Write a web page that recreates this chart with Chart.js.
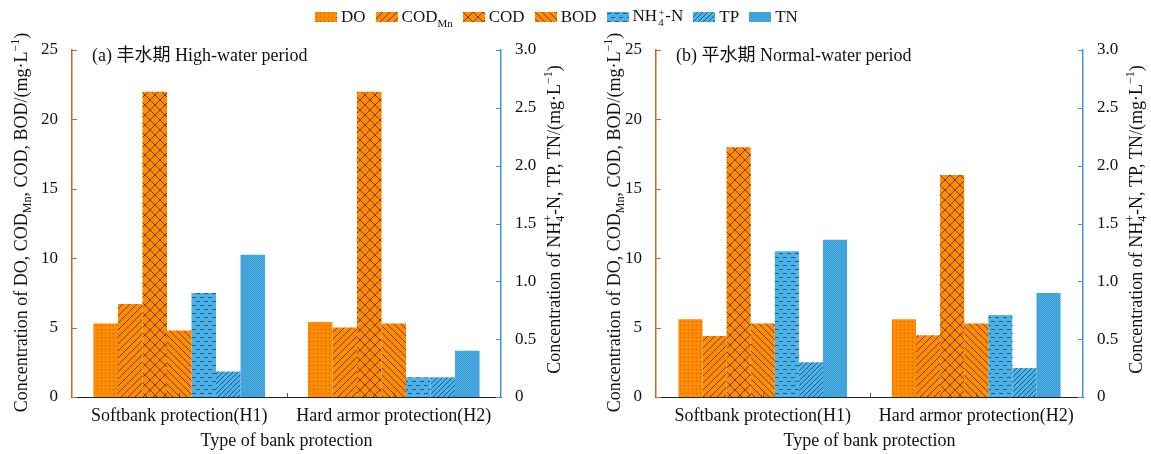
<!DOCTYPE html>
<html>
<head>
<meta charset="utf-8">
<script src="https://cdn.jsdelivr.net/npm/chart.js@4.4.0/dist/chart.umd.min.js"></script>
<style>
  body { margin: 0; background: #fff; width: 1151px; height: 454px; position: relative; overflow: hidden;
         font-family: 'Liberation Serif', 'Noto Sans CJK SC', serif; color: #111; }
  #legend { position: absolute; left: 315px; top: 6px; display: flex; align-items: center; font-size: 17px; white-space: nowrap; z-index: 2; }
  .item { display: flex; align-items: center; margin-right: 10px; }
  .item canvas { margin-right: 4px; }
  sub { font-size: 11px; vertical-align: -5px; line-height: 0; }
  .ss { display: inline-flex; flex-direction: column; font-size: 11px; line-height: 10px; vertical-align: middle; margin: 0 1px; }
  #ca { position: absolute; left: 0; top: 0; }
  #cb { position: absolute; left: 575px; top: 0; }
</style>
</head>
<body>
<div id="legend"></div>
<canvas id="ca" width="575" height="454"></canvas>
<canvas id="cb" width="576" height="454"></canvas>
<script>
const categories = ["Softbank protection(H1)", "Hard armor protection(H2)"];
const seriesNames = ["DO", "CODMn", "COD", "BOD", "NH4+-N", "TP", "TN"];
const legendLabels = ["DO", "COD<sub>Mn</sub>", "COD", "BOD",
  'NH<span class="ss"><span>+</span><span>4</span></span>-N', "TP", "TN"];

// (a) high-water period
const highDO = [5.3, 5.4];
const highCODMn = [6.7, 5.0];
const highCOD = [22, 22];
const highBOD = [4.8, 5.3];
const highNH4 = [0.90, 0.17];
const highTP = [0.22, 0.17];
const highTN = [1.23, 0.40];

// (b) normal-water period
const normDO = [5.6, 5.6];
const normCODMn = [4.4, 4.45];
const normCOD = [18, 16];
const normBOD = [5.3, 5.3];
const normNH4 = [1.26, 0.71];
const normTP = [0.30, 0.25];
const normTN = [1.36, 0.90];

const leftTicksMax = 25;
const rightTicksMax = 3.0;

const FAMILY = "'Liberation Serif', 'Noto Sans CJK SC', serif";
const ORANGE = "#ff8c00";
const BLUE = "#4cb1e6";
const ORANGE_AXIS = "#c8662a";
const BLUE_AXIS = "#4a92c4";
const kinds = ["dots", "slash", "cross", "back", "dash", "tp", "checker"];

function makePattern(ctx, kind, bg) {
    const size = {dots: 4, slash: 7, cross: 10, back: 7, dash: 8, tp: 5, checker: 2}[kind];
    const c = document.createElement("canvas");
    c.width = size; c.height = size;
    const g = c.getContext("2d");
    g.fillStyle = bg;
    g.fillRect(0, 0, size, size);
    const dark = bg === ORANGE ? "#7a3c06" : "#1d5a8c";
    g.strokeStyle = dark;
    g.fillStyle = dark;
    g.lineWidth = 1;
    const diag = (up) => {
        g.beginPath();
        for (let k = -1; k <= 1; k++) {
            if (up) { g.moveTo(k * size, size); g.lineTo(k * size + size, 0); }
            else { g.moveTo(k * size, 0); g.lineTo(k * size + size, size); }
        }
        g.stroke();
    };
    if (kind === "dots") {
        g.fillStyle = "#b35a06";
        g.fillRect(1, 1, 1, 1);
    } else if (kind === "slash") {
        diag(true);
    } else if (kind === "back") {
        diag(false);
    } else if (kind === "cross") {
        diag(true); diag(false);
    } else if (kind === "dash") {
        g.fillRect(0, 1, 4, 1);
        g.fillRect(4, 5, 4, 1);
    } else if (kind === "tp") {
        diag(true);
    } else if (kind === "checker") {
        g.fillStyle = "#3a98cf";
        g.fillRect(0, 0, 1, 1);
        g.fillRect(1, 1, 1, 1);
    }
    return ctx.createPattern(c, "repeat");
}

// legend
const legendDiv = document.getElementById("legend");
seriesNames.forEach((name, i) => {
    const item = document.createElement("div");
    item.className = "item";
    const sw = document.createElement("canvas");
    sw.width = 22; sw.height = 10;
    const sctx = sw.getContext("2d");
    sctx.fillStyle = makePattern(sctx, kinds[i], i < 4 ? ORANGE : BLUE);
    sctx.fillRect(0, 0, 22, 10);
    item.appendChild(sw);
    const lab = document.createElement("span");
    lab.innerHTML = legendLabels[i];
    item.appendChild(lab);
    legendDiv.appendChild(item);
});

const leftTitle = [
    {t: "Concentration of DO, COD"}, {t: "Mn", m: "sub"},
    {t: ", COD, BOD/(mg\u00b7L"}, {t: "\u22121", m: "sup"}, {t: ")"}
];
const rightTitle = [
    {t: "Concentration of NH"}, {t: "4", t2: "+", m: "subsup"},
    {t: "-N, TP, TN/(mg\u00b7L"}, {t: "\u22121", m: "sup"}, {t: ")"}
];

function drawRich(ctx, segs, x, y, size) {
    const small = Math.round(size * 0.65);
    const fnt = (s) => s + "px " + FAMILY;
    const widths = segs.map(s => {
        if (!s.m) { ctx.font = fnt(size); return ctx.measureText(s.t).width; }
        ctx.font = fnt(small);
        let w = ctx.measureText(s.t).width;
        if (s.t2) w = Math.max(w, ctx.measureText(s.t2).width);
        return w;
    });
    const total = widths.reduce((a, b) => a + b, 0);
    ctx.save();
    ctx.translate(x, y);
    ctx.rotate(-Math.PI / 2);
    ctx.textBaseline = "middle";
    ctx.textAlign = "left";
    ctx.fillStyle = "#111";
    let cx = -total / 2;
    segs.forEach((s, i) => {
        if (!s.m) { ctx.font = fnt(size); ctx.fillText(s.t, cx, 0); }
        else if (s.m === "sub") { ctx.font = fnt(small); ctx.fillText(s.t, cx, size * 0.32); }
        else if (s.m === "sup") { ctx.font = fnt(small); ctx.fillText(s.t, cx, -size * 0.36); }
        else { ctx.font = fnt(small); ctx.fillText(s.t, cx, size * 0.32); ctx.fillText(s.t2, cx, -size * 0.36); }
        cx += widths[i];
    });
    ctx.restore();
}

function decor(panel, leftOff, rightOff) {
    return {
        id: "decor",
        afterDraw(chart) {
            const {ctx, chartArea: a, scales} = chart;
            ctx.save();
            ctx.lineWidth = 1;
            const line = (x1, y1, x2, y2) => { ctx.beginPath(); ctx.moveTo(x1, y1); ctx.lineTo(x2, y2); ctx.stroke(); };
            ctx.strokeStyle = ORANGE_AXIS;
            scales.yL.ticks.forEach(t => {
                const y = Math.round(scales.yL.getPixelForValue(t.value)) + 0.5;
                line(a.left, y, a.left + 5, y);
            });
            ctx.strokeStyle = BLUE_AXIS;
            scales.yR.ticks.forEach(t => {
                const y = Math.round(scales.yR.getPixelForValue(t.value)) + 0.5;
                line(a.right, y, a.right - 5, y);
            });
            ctx.strokeStyle = "#555";
            const xs = categories.map((c, i) => scales.x.getPixelForValue(i));
            xs.forEach(x => line(Math.round(x) + 0.5, a.bottom, Math.round(x) + 0.5, a.bottom - 4));
            const mid = Math.round((xs[0] + xs[1]) / 2) + 0.5;
            line(mid, a.bottom, mid, a.bottom - 4);

            ctx.font = "18px " + FAMILY;
            ctx.fillStyle = "#111";
            ctx.textBaseline = "middle";
            ctx.fillText(panel, a.left + 20, a.top + 6);
            ctx.restore();

            const cy = (a.top + a.bottom) / 2;
            drawRich(ctx, leftTitle, a.left + leftOff, cy - 1, 18);
            drawRich(ctx, rightTitle, a.right + rightOff, cy - 4, 18);
        }
    };
}

function createChart(id, panel, values, leftW, rightW, leftOff, groupPct) {
    const canvas = document.getElementById(id);
    const ctx = canvas.getContext("2d");
    const font = {family: FAMILY, size: 17};
    const datasets = seriesNames.map((name, i) => ({
        label: name,
        data: values[i],
        yAxisID: i < 4 ? "yL" : "yR",
        backgroundColor: makePattern(ctx, kinds[i], i < 4 ? ORANGE : BLUE),
        borderWidth: 0,
        categoryPercentage: groupPct,
        barPercentage: 1.0
    }));
    return new Chart(ctx, {
        type: "bar",
        data: {labels: categories, datasets: datasets},
        options: {
            responsive: false,
            animation: false,
            devicePixelRatio: 1,
            layout: {padding: {top: 50, left: 0, right: 0, bottom: 0}},
            plugins: {legend: {display: false}, tooltip: {enabled: false}},
            scales: {
                x: {
                    grid: {display: false},
                    border: {color: "#222", width: 1},
                    ticks: {font: {family: FAMILY, size: 18}, color: "#111", padding: 0, maxRotation: 0},
                    title: {display: true, text: "Type of bank protection", font: {family: FAMILY, size: 18}, color: "#111", padding: {top: 0, bottom: 2}},
                    afterFit: s => { s.height = 57; }
                },
                yL: {
                    position: "left", min: 0, max: leftTicksMax,
                    grid: {display: false},
                    border: {color: ORANGE_AXIS, width: 1.5},
                    ticks: {stepSize: 5, font: font, color: "#111", padding: 6},
                    afterFit: s => { s.width = leftW; }
                },
                yR: {
                    position: "right", min: 0, max: rightTicksMax,
                    grid: {display: false},
                    border: {color: BLUE_AXIS, width: 1.5},
                    ticks: {stepSize: 0.5, font: font, color: "#111", padding: 6,
                            callback: v => v === 0 ? "0" : v.toFixed(1)},
                    afterFit: s => { s.width = rightW; }
                }
            }
        },
        plugins: [decor(panel, leftOff, 54)]
    });
}

window.addEventListener("load", () => {
    createChart("ca", "(a) 丰水期 High-water period",
        [highDO, highCODMn, highCOD, highBOD, highNH4, highTP, highTN], 72, 74, -50, 0.8);
    createChart("cb", "(b) 平水期 Normal-water period",
        [normDO, normCODMn, normCOD, normBOD, normNH4, normTP, normTN], 81, 68, -41, 0.79);
});
</script>
</body>
</html>
